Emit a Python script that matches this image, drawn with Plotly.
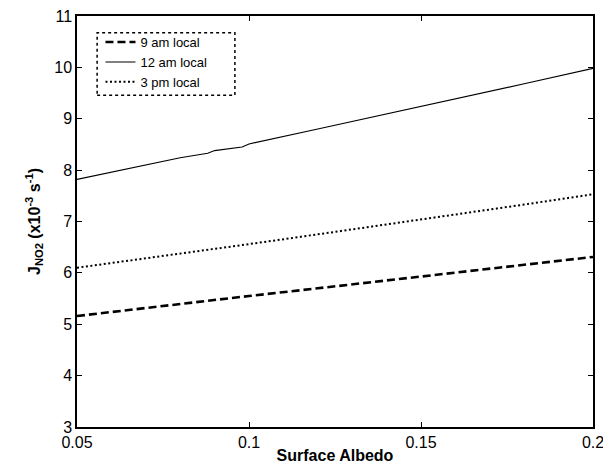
import plotly.graph_objects as go

albedo = [0.05, 0.06, 0.07, 0.08, 0.088, 0.09, 0.098, 0.1, 0.12, 0.14, 0.16, 0.18, 0.2]
j_9am = [5.16, 5.24, 5.32, 5.40, 5.46, 5.48, 5.53, 5.55, 5.70, 5.85, 6.00, 6.15, 6.31]
j_12am = [7.82, 7.96, 8.10, 8.24, 8.33, 8.38, 8.45, 8.51, 8.80, 9.09, 9.38, 9.68, 9.98]
j_3pm = [6.10, 6.19, 6.28, 6.37, 6.44, 6.47, 6.53, 6.56, 6.75, 6.94, 7.13, 7.33, 7.53]

x_ticks = [0.05, 0.1, 0.15, 0.2]
x_ticklabels = ["0.05", "0.1", "0.15", "0.2"]
y_ticks = [3, 4, 5, 6, 7, 8, 9, 10, 11]

fig = go.Figure()
fig.add_trace(go.Scatter(x=albedo, y=j_9am, mode="lines", name="9 am local",
                         line=dict(color="black", width=2.6, dash="8px,4px")))
fig.add_trace(go.Scatter(x=albedo, y=j_12am, mode="lines", name="12 am local",
                         line=dict(color="black", width=1.1)))
fig.add_trace(go.Scatter(x=albedo, y=j_3pm, mode="lines", name="3 pm local",
                         line=dict(color="black", width=2, dash="2px,2.5px")))

font = "Liberation Sans, Arial, Helvetica, sans-serif"
axis_common = dict(showgrid=False, zeroline=False, showline=True, linecolor="black",
                   linewidth=1.5, mirror="allticks", ticks="inside", ticklen=5,
                   tickcolor="black", ticklabeloverflow="allow", automargin=False,
                   tickfont=dict(family=font, size=16, color="black"))

# page body has an 8px default margin; size figure to fit the 611x468 window
fig.update_layout(
    width=603, height=460,
    paper_bgcolor="white", plot_bgcolor="white",
    margin=dict(l=69, r=18, t=8, b=41),
    showlegend=True,
    legend=dict(x=0.0455, y=0.973, xanchor="left", yanchor="top",
                bgcolor="rgba(0,0,0,0)", borderwidth=0,
                font=dict(family=font, size=13, color="black"),
                tracegroupgap=0, itemwidth=30),
    xaxis=dict(range=[0.05, 0.2], tickvals=x_ticks, ticktext=x_ticklabels,
               title=dict(text="<b>Surface Albedo</b>", standoff=0,
                          font=dict(family=font, size=16, color="black")),
               **axis_common),
    yaxis=dict(range=[3, 11], tickvals=y_ticks,
               title=dict(text="<b>J<sub>NO2</sub> (x10<sup>-3</sup> s<sup>-1</sup>)</b>", standoff=10,
                          font=dict(family=font, size=16, color="black")),
               **axis_common),
)
fig.add_shape(type="rect", xref="paper", yref="paper",
              x0=0.039, x1=0.306, y0=0.807, y1=0.959,
              line=dict(color="black", width=1.5, dash="dot"), fillcolor="rgba(0,0,0,0)")

fig.write_html("out.html")
